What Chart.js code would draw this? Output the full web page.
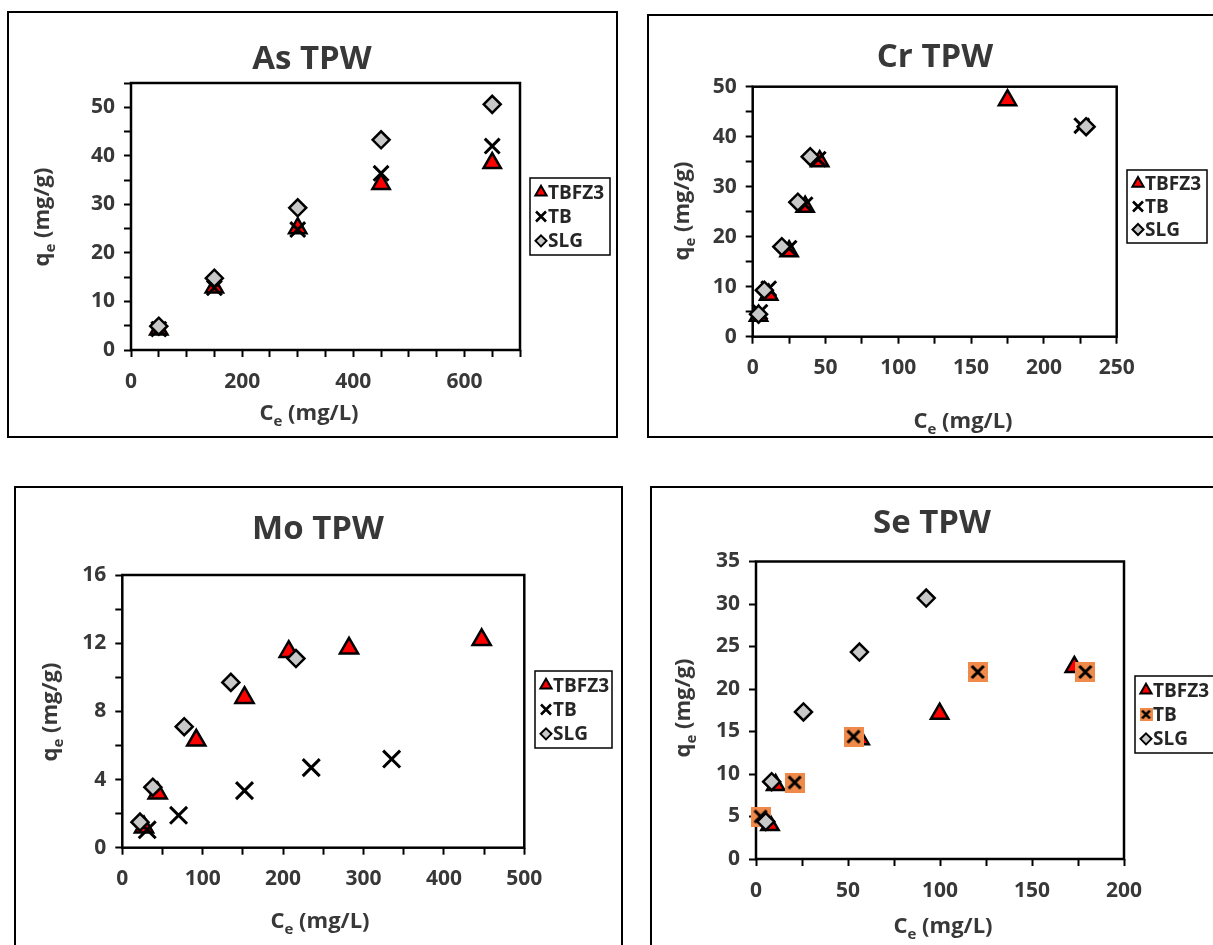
<!DOCTYPE html>
<html>
<head>
<meta charset="utf-8">
<title>TPW isotherms</title>
<script src="https://cdn.jsdelivr.net/npm/chart.js@4/dist/chart.umd.min.js"></script>
<style>
    html, body { margin: 0; padding: 0; background: #fff; }
    #stage { position: relative; width: 1213px; height: 945px; overflow: hidden; }
    #stage canvas { position: absolute; left: 0; top: 0; }
</style>
</head>
<body>
<div id="stage">
    <canvas id="c-as" width="1213" height="945"></canvas>
    <canvas id="c-cr" width="1213" height="945"></canvas>
    <canvas id="c-mo" width="1213" height="945"></canvas>
    <canvas id="c-se" width="1213" height="945"></canvas>
</div>
<script>
(function () {
    'use strict';

    /* ---------- data ---------- */
    var SERIES = ['TBFZ3', 'TB', 'SLG'];

    // As TPW: all three sorbents share the same Ce values
    var AS_CE = [50, 150, 300, 450, 650];
    var AS_TBFZ3 = [4.2, 12.9, 25.1, 34.2, 38.5];
    var AS_TB = [4.3, 12.8, 24.8, 36.4, 42.0];
    var AS_SLG = [4.9, 14.8, 29.3, 43.3, 50.6];
    var AS_X_LABELS = [0, 200, 400, 600];
    var AS_Y_LABELS = [0, 10, 20, 30, 40, 50];

    // Cr TPW
    var CR_TBFZ3_CE = [4, 11, 25, 36, 46, 175];
    var CR_TBFZ3_QE = [4.2, 8.4, 17.1, 26.0, 35.1, 47.3];
    var CR_TB_CE = [5, 11, 25, 36, 45, 226];
    var CR_TB_QE = [4.9, 9.6, 17.7, 26.4, 35.5, 42.2];
    var CR_SLG_CE = [4, 8, 20, 31, 39.5, 229];
    var CR_SLG_QE = [4.5, 9.3, 18.0, 26.9, 36.0, 42.0];
    var CR_X_LABELS = [0, 50, 100, 150, 200, 250];
    var CR_Y_LABELS = [0, 10, 20, 30, 40, 50];

    // Mo TPW
    var MO_TBFZ3_CE = [27, 44, 92, 152, 207, 282, 447];
    var MO_TBFZ3_QE = [1.2, 3.2, 6.3, 8.8, 11.5, 11.7, 12.2];
    var MO_TB_CE = [31, 70, 152, 235, 335];
    var MO_TB_QE = [1.05, 1.9, 3.35, 4.7, 5.2];
    var MO_SLG_CE = [22, 38, 77, 135, 216];
    var MO_SLG_QE = [1.5, 3.55, 7.1, 9.7, 11.1];
    var MO_X_LABELS = [0, 100, 200, 300, 400, 500];
    var MO_Y_LABELS = [0, 4, 8, 12, 16];

    // Se TPW
    var SE_TBFZ3_CE = [7.6, 10.7, 56.6, 99.8, 173];
    var SE_TBFZ3_QE = [4.0, 8.7, 14.1, 17.1, 22.6];
    var SE_TB_CE = [2.5, 21, 53, 120.5, 179];
    var SE_TB_QE = [5.0, 9.0, 14.4, 22.0, 22.0];
    var SE_SLG_CE = [5.3, 8.5, 25.8, 56.2, 92.5];
    var SE_SLG_QE = [4.4, 9.1, 17.3, 24.35, 30.7];
    var SE_X_LABELS = [0, 50, 100, 150, 200];
    var SE_Y_LABELS = [0, 5, 10, 15, 20, 25, 30, 35];

    var X_TITLE = [['C', 0], ['e', 1], [' (mg/L)', 0]];
    var Y_TITLE = [['q', 0], ['e', 1], [' (mg/g)', 0]];

    /* ---------- look ---------- */
    var W = 1213, H = 945;
    var FONT = '"Open Sans", Lato, sans-serif';
    var TXT = '#383838';
    var X_H = 60, Y_W = 80;   // fixed axis box sizes, plot area set by padding

    function pts(xs, ys) {
        return xs.map(function (x, i) { return { x: x, y: ys[i] }; });
    }

    // orange box with a black cross (TB marker in the Se panel)
    function crossBox(size, lw) {
        var c = document.createElement('canvas');
        c.width = c.height = size;
        var g = c.getContext('2d');
        g.fillStyle = '#f08a4b';
        g.fillRect(0, 0, size, size);
        var p = size * 0.2;
        g.strokeStyle = '#000';
        g.lineWidth = lw;
        g.beginPath();
        g.moveTo(p, p); g.lineTo(size - p, size - p);
        g.moveTo(size - p, p); g.lineTo(p, size - p);
        g.stroke();
        return c;
    }

    function markerSet(name, xs, ys, opts) {
        var base;
        if (name === 'TBFZ3') {
            base = { pointStyle: 'triangle', pointRadius: 10, pointBackgroundColor: '#ff0000',
                     pointBorderColor: '#000', pointBorderWidth: 2.5, order: 3, kind: 'tri' };
        } else if (name === 'TB') {
            base = { pointStyle: 'crossRot', pointRadius: 10.5, pointBackgroundColor: '#000',
                     pointBorderColor: '#000', pointBorderWidth: 3, order: 2, kind: 'x' };
        } else {
            base = { pointStyle: 'rectRot', pointRadius: 8.5, pointBackgroundColor: '#c8c8c8',
                     pointBorderColor: '#000', pointBorderWidth: 2.5, order: 1, kind: 'dia' };
        }
        return Object.assign({ label: name, data: pts(xs, ys), clip: false, showLine: false,
                               pointHoverRadius: 0 }, base, opts || {});
    }

    var PANELS = [
        {
            id: 'c-as', title: 'As TPW',
            frame: [8, 12, 617, 437], plot: [131, 83, 520, 350],
            xMax: 700, xStep: 50, xLabels: AS_X_LABELS,
            yMax: 55, yStep: 5, yLabels: AS_Y_LABELS,
            titleAt: [312, 60], xTitleAt: [309, 412], yTitleAt: [41, 217],
            legend: [530, 178, 80, 77],
            datasets: [
                markerSet(SERIES[0], AS_CE, AS_TBFZ3),
                markerSet(SERIES[1], AS_CE, AS_TB),
                markerSet(SERIES[2], AS_CE, AS_SLG)
            ]
        },
        {
            id: 'c-cr', title: 'Cr TPW',
            frame: [648, 15, 1218, 437], plot: [752.7, 86.7, 1116.7, 336.7],
            xMax: 250, xStep: 25, xLabels: CR_X_LABELS,
            yMax: 50, yStep: 5, yLabels: CR_Y_LABELS,
            titleAt: [935, 58], xTitleAt: [963, 420], yTitleAt: [681, 211],
            legend: [1127, 170, 80, 73],
            datasets: [
                markerSet(SERIES[0], CR_TBFZ3_CE, CR_TBFZ3_QE),
                markerSet(SERIES[1], CR_TB_CE, CR_TB_QE),
                markerSet(SERIES[2], CR_SLG_CE, CR_SLG_QE)
            ]
        },
        {
            id: 'c-mo', title: 'Mo TPW',
            frame: [15, 487, 622, 950], plot: [122.3, 575, 524.3, 847.7],
            xMax: 500, xStep: 50, xLabels: MO_X_LABELS,
            yMax: 16, yStep: 2, yLabels: MO_Y_LABELS,
            titleAt: [318, 530], xTitleAt: [320, 920], yTitleAt: [49, 712],
            legend: [535, 671, 77, 77],
            datasets: [
                markerSet(SERIES[0], MO_TBFZ3_CE, MO_TBFZ3_QE, { pointRadius: 10.5 }),
                markerSet(SERIES[1], MO_TB_CE, MO_TB_QE, { pointRadius: 12 }),
                markerSet(SERIES[2], MO_SLG_CE, MO_SLG_QE)
            ]
        },
        {
            id: 'c-se', title: 'Se TPW',
            frame: [651, 487, 1218, 950], plot: [756, 561.5, 1124, 859],
            xMax: 200, xStep: 25, xLabels: SE_X_LABELS,
            yMax: 35, yStep: 5, yLabels: SE_Y_LABELS,
            titleAt: [932, 524], xTitleAt: [943, 925], yTitleAt: [682, 708],
            legend: [1135, 676, 82, 77],
            datasets: [
                markerSet(SERIES[0], SE_TBFZ3_CE, SE_TBFZ3_QE),
                markerSet(SERIES[1], SE_TB_CE, SE_TB_QE,
                          { pointStyle: crossBox(20, 3), kind: 'xbox' }),
                markerSet(SERIES[2], SE_SLG_CE, SE_SLG_QE)
            ]
        }
    ];

    /* ---------- canvas text helpers ---------- */
    function drawSubText(ctx, parts, cx, cy, size) {
        var mainF = 'bold ' + size + 'px ' + FONT;
        var subF = 'bold ' + Math.round(size * 0.66) + 'px ' + FONT;
        var widths = [], total = 0;
        parts.forEach(function (p) {
            ctx.font = p[1] ? subF : mainF;
            var w = ctx.measureText(p[0]).width;
            widths.push(w); total += w;
        });
        var x = cx - total / 2, base = cy + size * 0.36;
        ctx.textAlign = 'left';
        ctx.textBaseline = 'alphabetic';
        parts.forEach(function (p, i) {
            ctx.font = p[1] ? subF : mainF;
            ctx.fillText(p[0], x, base + (p[1] ? size * 0.26 : 0));
            x += widths[i];
        });
    }

    function drawMarker(ctx, kind, x, y) {
        ctx.save();
        ctx.strokeStyle = '#000';
        ctx.beginPath();
        if (kind === 'tri') {
            var r = 6.5;
            ctx.moveTo(x, y - r);
            ctx.lineTo(x + r * 0.866, y + r * 0.5);
            ctx.lineTo(x - r * 0.866, y + r * 0.5);
            ctx.closePath();
            ctx.fillStyle = '#ff0000'; ctx.fill();
            ctx.lineWidth = 2; ctx.stroke();
        } else if (kind === 'x') {
            var d = 5;
            ctx.moveTo(x - d, y - d); ctx.lineTo(x + d, y + d);
            ctx.moveTo(x + d, y - d); ctx.lineTo(x - d, y + d);
            ctx.lineWidth = 2.6; ctx.stroke();
        } else if (kind === 'xbox') {
            ctx.drawImage(crossBox(13, 2.6), x - 6.5, y - 6.5);
        } else {
            var s = 5.5;
            ctx.moveTo(x, y - s); ctx.lineTo(x + s, y); ctx.lineTo(x, y + s); ctx.lineTo(x - s, y);
            ctx.closePath();
            ctx.fillStyle = '#c8c8c8'; ctx.fill();
            ctx.lineWidth = 2; ctx.stroke();
        }
        ctx.restore();
    }

    function makeDeco(p) {
        return {
            id: 'panelDeco',
            beforeDatasetsDraw: function (chart) {
                var a = chart.chartArea, ctx = chart.ctx;
                ctx.save();
                ctx.strokeStyle = '#000';
                ctx.lineWidth = 2.5;
                ctx.strokeRect(a.left, a.top, a.right - a.left, a.bottom - a.top);
                ctx.restore();
            },
            afterDraw: function (chart) {
                var ctx = chart.ctx, f = p.frame, lg = p.legend;
                ctx.save();
                // outer panel border
                ctx.strokeStyle = '#000';
                ctx.lineWidth = 2;
                ctx.strokeRect(f[0], f[1], f[2] - f[0], f[3] - f[1]);

                // title
                ctx.fillStyle = TXT;
                ctx.font = 'bold 33px ' + FONT;
                ctx.textAlign = 'center';
                ctx.textBaseline = 'middle';
                ctx.fillText(p.title, p.titleAt[0], p.titleAt[1]);

                // axis titles
                drawSubText(ctx, X_TITLE, p.xTitleAt[0], p.xTitleAt[1], 22);
                ctx.save();
                ctx.translate(p.yTitleAt[0], p.yTitleAt[1]);
                ctx.rotate(-Math.PI / 2);
                drawSubText(ctx, Y_TITLE, 0, 0, 22);
                ctx.restore();

                // legend box
                ctx.fillStyle = '#fff';
                ctx.fillRect(lg[0], lg[1], lg[2], lg[3]);
                ctx.strokeStyle = '#000';
                ctx.lineWidth = 1.5;
                ctx.strokeRect(lg[0], lg[1], lg[2], lg[3]);
                var rowH = (lg[3] - 4) / 3;
                chart.data.datasets.forEach(function (ds, i) {
                    var y = lg[1] + 2 + rowH * (i + 0.5);
                    drawMarker(ctx, ds.kind, lg[0] + 11, y);
                    ctx.fillStyle = '#262626';
                    ctx.font = 'bold 19px ' + FONT;
                    ctx.textAlign = 'left';
                    ctx.textBaseline = 'middle';
                    ctx.fillText(ds.label, lg[0] + 18, y + 1);
                });
                ctx.restore();
            }
        };
    }

    function labelIn(list) {
        return function (v) { return list.indexOf(v) >= 0 ? String(v) : ''; };
    }

    function axis(max, step, labels, isX) {
        return {
            type: 'linear', min: 0, max: max,
            afterFit: function (s) { if (isX) { s.height = X_H; } else { s.width = Y_W; } },
            border: { display: false },
            grid: { display: true, drawOnChartArea: false, drawTicks: true,
                    tickLength: 7, tickWidth: 2, tickColor: '#000' },
            ticks: { stepSize: step, autoSkip: false, maxRotation: 0, minRotation: 0,
                     padding: isX ? 12 : 9, color: TXT,
                     font: { family: FONT, weight: 'bold', size: 21 },
                     callback: labelIn(labels) }
        };
    }

    function build(p) {
        return new Chart(document.getElementById(p.id), {
            type: 'scatter',
            data: { datasets: p.datasets },
            options: {
                responsive: false,
                animation: false,
                events: [],
                layout: { padding: { left: p.plot[0] - Y_W, top: p.plot[1],
                                     right: W - p.plot[2], bottom: H - p.plot[3] - X_H } },
                plugins: { legend: { display: false }, tooltip: { enabled: false }, title: { display: false } },
                scales: {
                    x: axis(p.xMax, p.xStep, p.xLabels, true),
                    y: axis(p.yMax, p.yStep, p.yLabels, false)
                }
            },
            plugins: [makeDeco(p)]
        });
    }

    PANELS.forEach(build);
})();
</script>
</body>
</html>
